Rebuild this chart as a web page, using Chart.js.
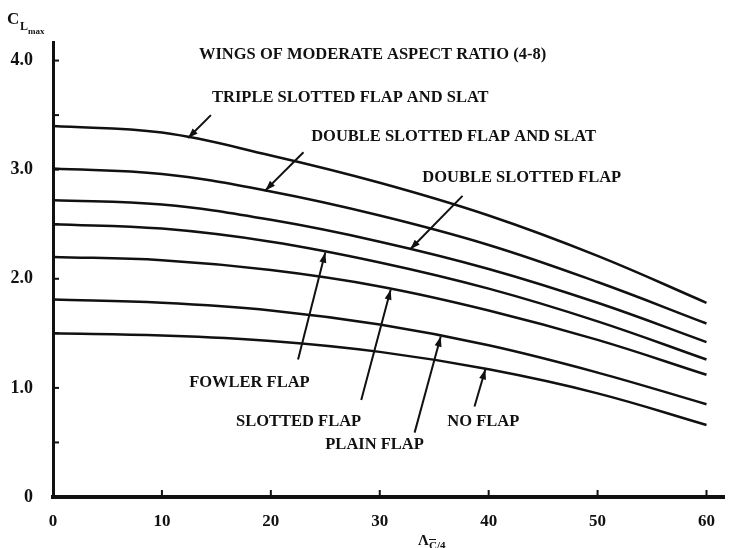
<!DOCTYPE html>
<html>
<head>
<meta charset="utf-8">
<script src="https://cdn.jsdelivr.net/npm/chart.js@4.4.0/dist/chart.umd.min.js"></script>
<style>
html, body { margin: 0; padding: 0; background: #fff; }
</style>
</head>
<body>
<canvas id="cl" width="729" height="548"></canvas>
<script>
// sweep of the quarter chord line, deg
var sweep = [0, 10, 20, 30, 40, 50, 60];

// CL max
var tripleSlat    = [3.40, 3.34, 3.13, 2.88, 2.58, 2.21, 1.78];
var doubleSlat    = [3.01, 2.96, 2.80, 2.58, 2.31, 1.97, 1.59];
var doubleSlotted = [2.72, 2.68, 2.54, 2.34, 2.09, 1.78, 1.42];
var fowler        = [2.50, 2.46, 2.34, 2.15, 1.91, 1.61, 1.26];
var slotted       = [2.20, 2.17, 2.08, 1.93, 1.71, 1.44, 1.12];
var plain         = [1.81, 1.78, 1.71, 1.58, 1.39, 1.14, 0.85];
var noFlap        = [1.50, 1.48, 1.43, 1.33, 1.17, 0.95, 0.66];

var xTicks = [0, 10, 20, 30, 40, 50, 60];
var yTicks = [0, 1, 2, 3, 4];
var yMinor = [0.5, 1, 1.5, 2, 2.5, 3, 3.5, 4];

var ink = '#111';
var serif = '"Liberation Serif", "DejaVu Serif", serif';

// labels + arrows, in data units (tail -> head on the curve)
var notes = [
  { text: 'WINGS OF MODERATE ASPECT RATIO (4-8)', x: 13.4, y: 4.055 },
  { text: 'TRIPLE SLOTTED FLAP AND SLAT', x: 14.6, y: 3.66, from: [14.5, 3.50], to: [12.4, 3.29] },
  { text: 'DOUBLE SLOTTED FLAP AND SLAT', x: 23.7, y: 3.30, from: [23.0, 3.16], to: [19.5, 2.81] },
  { text: 'DOUBLE SLOTTED FLAP', x: 33.9, y: 2.93, from: [37.6, 2.76], to: [32.8, 2.27] },
  { text: 'FOWLER FLAP', x: 12.5, y: 1.05, from: [22.5, 1.26], to: [25.0, 2.24] },
  { text: 'SLOTTED FLAP', x: 16.8, y: 0.69, from: [28.3, 0.89], to: [31.0, 1.90] },
  { text: 'PLAIN FLAP', x: 25.0, y: 0.48, from: [33.2, 0.59], to: [35.6, 1.47] },
  { text: 'NO FLAP', x: 36.2, y: 0.69, from: [38.7, 0.83], to: [39.7, 1.17] }
];

function pts(arr) {
  return arr.map(function (v, i) { return { x: sweep[i], y: v }; });
}

function curve(label, arr) {
  return {
    label: label,
    data: pts(arr),
    borderColor: ink,
    borderWidth: 2.5,
    pointRadius: 0,
    fill: false,
    tension: 0.4
  };
}

var extras = {
  id: 'extras',
  afterDraw: function (chart) {
    var ctx = chart.ctx;
    var sx = chart.scales.x, sy = chart.scales.y;
    ctx.save();
    ctx.fillStyle = ink;
    ctx.strokeStyle = ink;

    // inner tick marks
    ctx.lineWidth = 2;
    yMinor.forEach(function (v) {
      var py = sy.getPixelForValue(v);
      ctx.beginPath();
      ctx.moveTo(sx.left, py);
      ctx.lineTo(sx.left + 6, py);
      ctx.stroke();
    });
    xTicks.forEach(function (v) {
      var px = sx.getPixelForValue(v);
      ctx.beginPath();
      ctx.moveTo(px, sy.bottom);
      ctx.lineTo(px, sy.bottom - 7);
      ctx.stroke();
    });

    // notes
    ctx.font = 'bold 16.5px ' + serif;
    ctx.textAlign = 'left';
    ctx.textBaseline = 'middle';
    notes.forEach(function (n) {
      ctx.fillText(n.text, sx.getPixelForValue(n.x), sy.getPixelForValue(n.y));
      if (!n.from) return;
      var x1 = sx.getPixelForValue(n.from[0]), y1 = sy.getPixelForValue(n.from[1]);
      var x2 = sx.getPixelForValue(n.to[0]), y2 = sy.getPixelForValue(n.to[1]);
      ctx.lineWidth = 2;
      ctx.beginPath();
      ctx.moveTo(x1, y1);
      ctx.lineTo(x2, y2);
      ctx.stroke();
      var a = Math.atan2(y2 - y1, x2 - x1);
      ctx.beginPath();
      ctx.moveTo(x2, y2);
      ctx.lineTo(x2 - 10 * Math.cos(a) + 3.5 * Math.sin(a), y2 - 10 * Math.sin(a) - 3.5 * Math.cos(a));
      ctx.lineTo(x2 - 10 * Math.cos(a) - 3.5 * Math.sin(a), y2 - 10 * Math.sin(a) + 3.5 * Math.cos(a));
      ctx.closePath();
      ctx.fill();
    });

    // axis titles
    ctx.textBaseline = 'alphabetic';
    ctx.font = 'bold 17px ' + serif;
    ctx.fillText('C', 7, 24);
    ctx.font = 'bold 12px ' + serif;
    ctx.fillText('L', 20, 30);
    ctx.font = 'bold 9px ' + serif;
    ctx.fillText('max', 28, 34);

    var lx = 418;
    ctx.font = 'bold 15px ' + serif;
    ctx.fillText('\u039B', lx, 545);
    ctx.font = 'bold 11px ' + serif;
    ctx.fillText('C/4', lx + 11, 549);
    ctx.lineWidth = 1;
    ctx.beginPath();
    ctx.moveTo(lx + 11, 539.5);
    ctx.lineTo(lx + 18, 539.5);
    ctx.stroke();
    ctx.restore();
  }
};

new Chart(document.getElementById('cl'), {
  type: 'line',
  data: {
    datasets: [
      curve('Triple slotted flap and slat', tripleSlat),
      curve('Double slotted flap and slat', doubleSlat),
      curve('Double slotted flap', doubleSlotted),
      curve('Fowler flap', fowler),
      curve('Slotted flap', slotted),
      curve('Plain flap', plain),
      curve('No flap', noFlap)
    ]
  },
  options: {
    responsive: false,
    animation: false,
    events: [],
    layout: { padding: { top: 42, right: 0, left: 0, bottom: 0 } },
    plugins: { legend: { display: false }, tooltip: { enabled: false } },
    scales: {
      x: {
        type: 'linear',
        min: 0,
        max: 61.64,
        afterBuildTicks: function (s) { s.ticks = xTicks.map(function (v) { return { value: v }; }); },
        afterFit: function (s) { s.height = 51; },
        grid: { display: false, drawTicks: false },
        border: { display: true, width: 4, color: ink },
        ticks: { color: ink, font: { family: serif, size: 17, weight: 'bold' }, padding: 14, maxRotation: 0 }
      },
      y: {
        type: 'linear',
        min: 0,
        max: 4.17,
        afterBuildTicks: function (s) { s.ticks = yTicks.map(function (v) { return { value: v }; }); },
        afterFit: function (s) { s.width = 53; },
        grid: { display: false, drawTicks: false },
        border: { display: true, width: 3, color: ink },
        ticks: {
          color: ink,
          font: { family: serif, size: 18, weight: 'bold' },
          padding: 20,
          callback: function (v) { return v === 0 ? '0' : v.toFixed(1); }
        }
      }
    }
  },
  plugins: [extras]
});
</script>
</body>
</html>
